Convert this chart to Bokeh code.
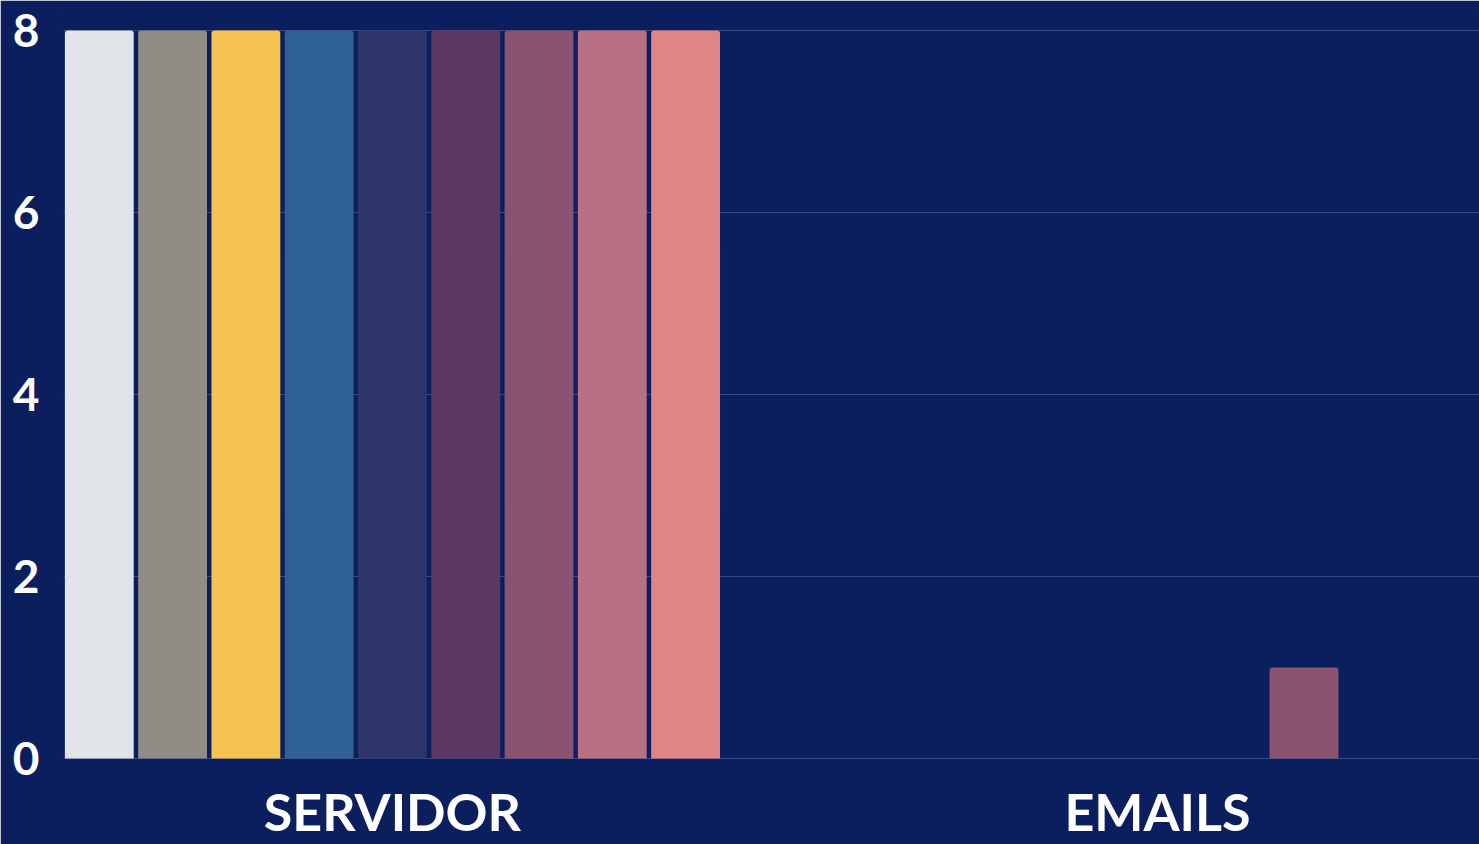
from bokeh.plotting import figure
from bokeh.models import Range1d, FixedTicker, ColumnDataSource
from bokeh.embed import file_html
from bokeh.resources import INLINE

categories = ["SERVIDOR", "EMAILS"]
series_1 = [8, 0]
series_2 = [8, 0]
series_3 = [8, 0]
series_4 = [8, 0]
series_5 = [8, 0]
series_6 = [8, 0]
series_7 = [8, 1]
series_8 = [8, 0]
series_9 = [8, 0]
all_series = [series_1, series_2, series_3, series_4, series_5,
              series_6, series_7, series_8, series_9]
colors = ["#e0e3e8", "#918c86", "#f5c350", "#2e6096", "#2f346b",
          "#5e3764", "#8a5372", "#b87082", "#e08585"]
y_ticks = [0, 2, 4, 6, 8]

BG = "#0b1f5e"
GRID = "#3a4a85"

p = figure(width=1479, height=844, output_backend="svg", toolbar_location=None,
           x_range=Range1d(0.070, 1.921), y_range=Range1d(-0.011, 8.242),
           background_fill_color=BG, border_fill_color=BG,
           min_border_left=63, min_border_right=0, min_border_top=8,
           min_border_bottom=85, outline_line_color=BG)

slot = 0.0958
bw = 0.090
n = len(all_series)
for i, (vals, col) in enumerate(zip(all_series, colors)):
    xs = [k + 0.5 + (i - (n - 1) / 2) * slot for k in range(len(categories))]
    src = ColumnDataSource(dict(x=xs, top=vals))
    p.vbar(x="x", top="top", width=bw, source=src, fill_color=col,
           line_color=None, border_radius=(3, 3, 0, 0))

p.xaxis.ticker = FixedTicker(ticks=[k + 0.5 for k in range(len(categories))])
p.xaxis.major_label_overrides = {k + 0.5: c for k, c in enumerate(categories)}
p.yaxis.ticker = FixedTicker(ticks=y_ticks)

for ax in (p.xaxis, p.yaxis):
    ax.axis_line_color = None
    ax.major_tick_line_color = None
    ax.minor_tick_line_color = None
    ax.major_label_text_color = "white"
    ax.major_label_text_font = "Lato"
    ax.major_label_text_font_style = "bold"

p.yaxis.major_label_text_font_size = "46px"
p.xaxis.major_label_text_font_size = "52px"
p.yaxis.major_label_standoff = 18
p.xaxis.major_label_standoff = 14

p.xgrid.grid_line_color = None
p.ygrid.grid_line_color = GRID
p.ygrid.grid_line_width = 1
p.ygrid.level = "underlay"

open("out.html", "w").write(file_html(p, INLINE))
